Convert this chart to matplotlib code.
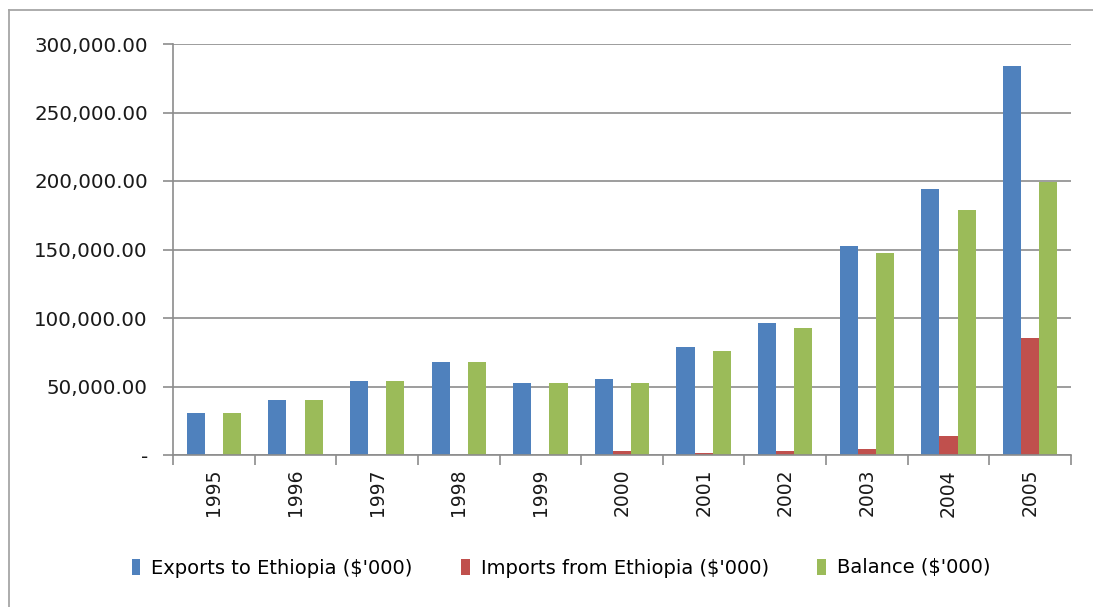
import numpy as np
import matplotlib.pyplot as plt
from matplotlib.ticker import FuncFormatter, FixedLocator
from matplotlib.lines import Line2D

years = ['1995', '1996', '1997', '1998', '1999', '2000',
         '2001', '2002', '2003', '2004', '2005']
exports = [30700, 40100, 53800, 67700, 52600, 55300,
           78600, 96600, 152800, 194200, 284000]
imports = [0, 0, 0, 0, 0, 3100,
           1700, 2900, 4400, 14100, 85600]
balance = [30700, 40100, 53800, 67700, 52600, 52600,
           75900, 92500, 147400, 179100, 199000]
series_names = ["Exports to Ethiopia ($'000)",
                "Imports from Ethiopia ($'000)",
                "Balance ($'000)"]
colors = ['#4F81BD', '#C0504D', '#9BBB59']

W, H = 1093, 607
fig = plt.figure(figsize=(W / 100, H / 100), dpi=100)
ax = fig.add_axes([173 / W, 1 - 455 / H, (1071 - 173) / W, (455 - 44) / H])

# chart frame (only top and left edges visible in the original crop)
fig.add_artist(Line2D([9 / W, 1.01], [1 - 10 / H, 1 - 10 / H], color='#A6A6A6', lw=1.3))
fig.add_artist(Line2D([9 / W, 9 / W], [-0.01, 1 - 10 / H], color='#A6A6A6', lw=1.3))

x = np.arange(len(years))
bw = 1 / 4.5
for i, (vals, c) in enumerate(zip([exports, imports, balance], colors)):
    ax.bar(x + (i - 1) * bw, vals, width=bw, color=c, label=series_names[i], zorder=3)

ax.set_xlim(-0.5, len(years) - 0.5)
ax.set_ylim(0, 300000)
ax.set_yticks(np.arange(0, 300001, 50000))


def fmt(v, pos):
    if v == 0:
        return '-'
    return '{:,.2f}'.format(v)


ax.yaxis.set_major_formatter(FuncFormatter(fmt))
ax.grid(axis='y', color='#8C8C8C', lw=1.2, zorder=0)

# category labels and boundary ticks
ax.set_xticks(x)
ax.set_xticklabels(years, rotation=90, fontsize=13.5, color='#1a1a1a')
ax.tick_params(axis='x', which='major', length=0, pad=10)
ax.xaxis.set_minor_locator(FixedLocator(np.arange(-0.5, len(years), 1)))
ax.tick_params(axis='x', which='minor', length=7, width=1.2, color='#8C8C8C')
ax.tick_params(axis='y', length=7, width=1.2, color='#8C8C8C', labelsize=14.3,
               labelcolor='#1a1a1a', pad=11)

for s in ['top', 'right']:
    ax.spines[s].set_visible(False)
for s in ['left', 'bottom']:
    ax.spines[s].set_color('#8C8C8C')
    ax.spines[s].set_linewidth(1.2)
    ax.spines[s].set_zorder(4)

fig.legend(loc='center', bbox_to_anchor=(561 / W, 1 - 568 / H), ncol=3,
           frameon=False, fontsize=14, handlelength=0.45, handleheight=0.9,
           handletextpad=0.55, columnspacing=2.5)

fig.savefig('out.png', dpi=100)
